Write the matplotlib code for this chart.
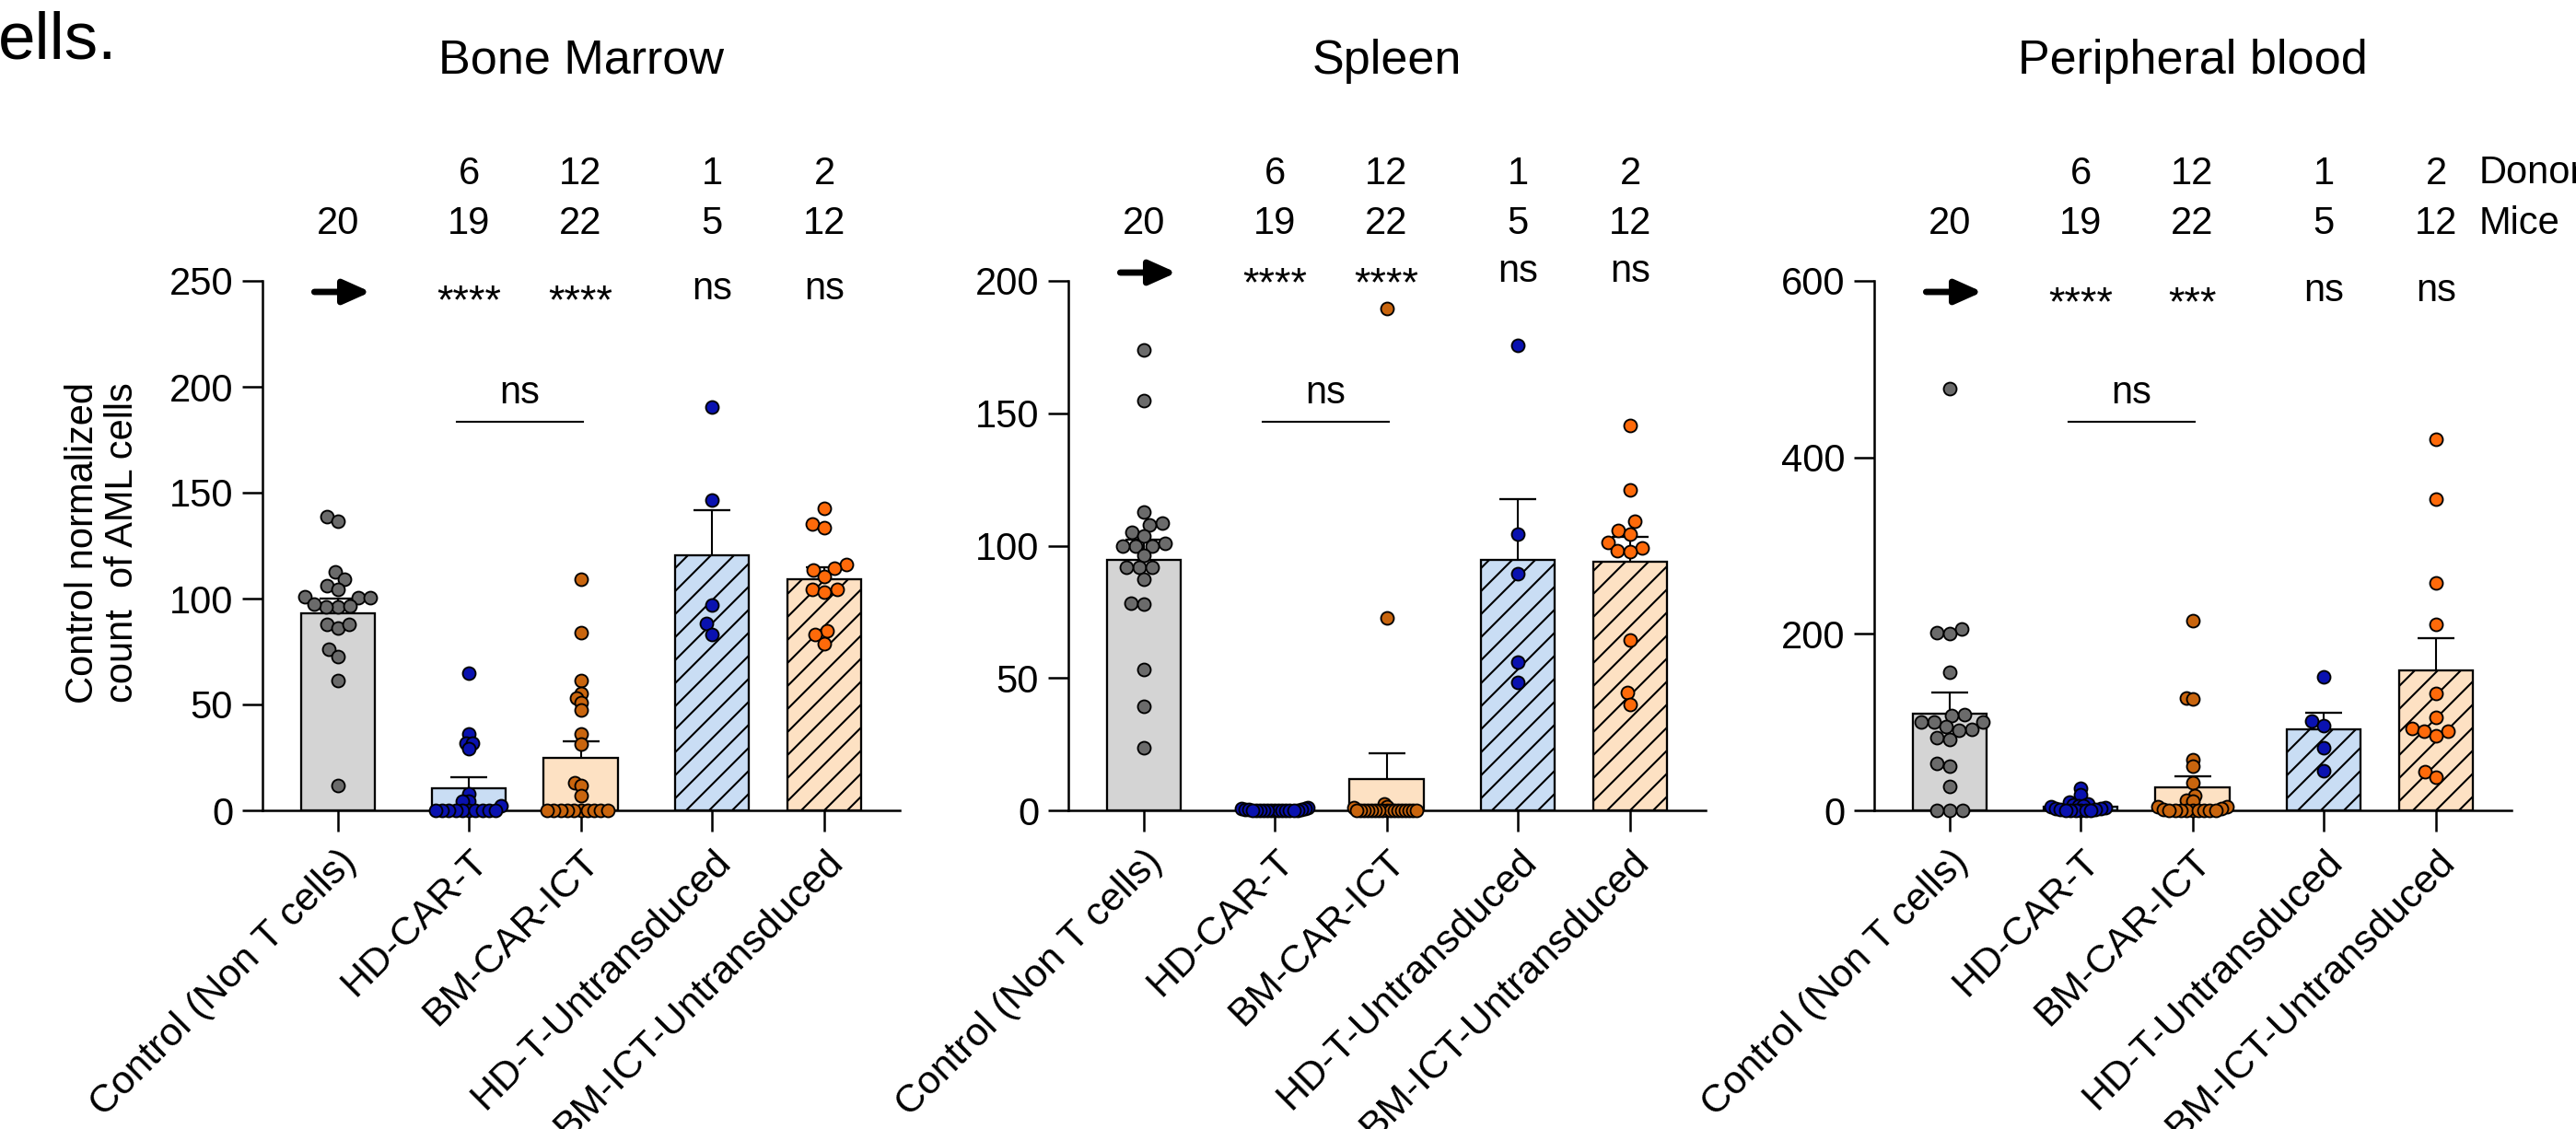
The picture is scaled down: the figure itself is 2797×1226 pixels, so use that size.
import matplotlib
matplotlib.use('Agg')
import matplotlib.pyplot as plt
from matplotlib.transforms import blended_transform_factory
import numpy as np

plt.rcParams['font.family'] = ['Liberation Sans', 'DejaVu Sans']
plt.rcParams['hatch.linewidth'] = 1.0

# ---------------- data ----------------
categories = ["Control (Non T cells)", "HD-CAR-T", "BM-CAR-ICT",
              "HD-T-Untransduced", "BM-ICT-Untransduced"]
panel_titles = ["Bone Marrow", "Spleen", "Peripheral blood"]
donors = ["", "6", "12", "1", "2"]
mice = ["20", "19", "22", "5", "12"]

yticks_bm = [0, 50, 100, 150, 200, 250]
yticks_sp = [0, 50, 100, 150, 200]
yticks_pb = [0, 200, 400, 600]

stats_bm = ["arrow", "****", "****", "ns", "ns"]
stats_sp = ["arrow", "****", "****", "ns", "ns"]
stats_pb = ["arrow", "****", "***", "ns", "ns"]
pair_label = "ns"

# bar heights (mean) and upper error (SEM)
mean_bm = [93.2, 10.6, 25.0, 120.6, 109.1]
sem_bm = [6.6, 5.1, 7.5, 21.3, 5.8]
mean_sp = [94.7, 0.3, 11.9, 94.6, 94.0]
sem_sp = [7.7, 0.2, 9.5, 23.1, 9.2]
mean_pb = [109.5, 4.6, 26.0, 91.7, 158.2]
sem_pb = [24.0, 1.6, 12.2, 19.2, 37.2]

# individual mice
bm_control = [138.7, 136.6, 112.7, 109.0, 106.1, 104.3, 100.3, 100.3, 100.7, 95.9,
              95.9, 96.4, 97.4, 88.0, 86.0, 88.0, 76.0, 72.5, 61.3, 11.6]
bm_hdcar = [64.9, 36.0, 31.9, 31.9, 29.0, 8.0, 4.3, 4.3, 2.2,
            0, 0, 0, 0, 0, 0, 0, 0, 0, 0]
bm_bmcar = [109.0, 84.0, 61.3, 55.4, 53.2, 50.7, 47.4, 36.0, 31.2, 13.0, 11.9, 7.0,
            0, 0, 0, 0, 0, 0, 0, 0, 0, 0]
bm_hdun = [190.6, 146.4, 97.1, 88.4, 82.9]
bm_bmun = [142.5, 135.2, 133.3, 116.3, 114.2, 113.5, 110.4, 104.3, 104.3, 102.9,
           84.8, 82.9, 78.7]

sp_control = [173.8, 154.9, 112.8, 108.6, 107.9, 105.1, 103.5, 100.7, 99.9, 99.9,
              99.9, 96.3, 91.7, 91.7, 91.7, 87.2, 78.4, 77.9, 53.2, 39.3, 23.7]
sp_hdcar = [1.2, 0.8, 0.6, 0.4, 0.3, 0.2, 0.1, 0, 0, 0, 0, 0, 0, 0, 0, 0, 0, 0, 0]
sp_bmcar = [189.5, 72.8, 2.5, 1.5, 1.0, 0, 0, 0, 0, 0, 0, 0, 0, 0, 0, 0, 0, 0, 0,
            0, 0, 0]
sp_hdun = [175.8, 104.5, 89.4, 55.9, 48.4]
sp_bmun = [145.3, 120.9, 109.1, 105.9, 104.5, 101.3, 99.3, 98.1, 97.6, 64.5, 44.6, 39.9]

pb_control = [477.7, 205.8, 201.7, 199.9, 156.4, 108.4, 107.4, 99.7, 99.7, 99.7,
              94.5, 92.1, 91.1, 82.3, 80.6, 53.5, 50.4, 26.7, 0, 0, 0]
pb_hdcar = [25, 18, 9, 7, 6, 5, 5, 4, 3, 2, 2, 1, 1, 0, 0, 0, 0, 0, 0]
pb_bmcar = [214.5, 126.9, 125.8, 57.0, 50.0, 31.2, 16.3, 11.8, 10.3, 4, 4, 2, 1,
            0, 0, 0, 0, 0, 0, 0, 0, 0]
pb_hdun = [151.2, 100.8, 96.3, 71.2, 45.1]
pb_bmun = [420.8, 352.5, 258.0, 210.3, 132.8, 105.7, 92.8, 89.3, 89.3, 84.1, 44.1, 37.1]

# ---------------- layout / style ----------------
W, H, DPI = 2797, 1226, 150
x_pos = [0, 1.165, 2.16, 3.33, 4.33]
xlim = (-0.672, 5.0)
bar_width = 0.656
bar_fill = ['#d4d4d4', '#c9ddf4', '#fde1c3', '#c9ddf4', '#fde1c3']
bar_hatch = [None, None, None, '//', '//']
dot_color = ['#6b6b6b', '#0a12b0', '#c9650e', '#0a12b0', '#ff6a0a']

panels = [
    dict(title=panel_titles[0], left=285, ylim=250, yticks=yticks_bm,
         mean=mean_bm, sem=sem_bm, stats=stats_bm,
         pts=[bm_control, bm_hdcar, bm_bmcar, bm_hdun, bm_bmun],
         arrow_y=317, ns_base=325, star_base=340),
    dict(title=panel_titles[1], left=1160, ylim=200, yticks=yticks_sp,
         mean=mean_sp, sem=sem_sp, stats=stats_sp,
         pts=[sp_control, sp_hdcar, sp_bmcar, sp_hdun, sp_bmun],
         arrow_y=296, ns_base=306, star_base=321),
    dict(title=panel_titles[2], left=2035, ylim=600, yticks=yticks_pb,
         mean=mean_pb, sem=sem_pb, stats=stats_pb,
         pts=[pb_control, pb_hdcar, pb_bmcar, pb_hdun, pb_bmun],
         arrow_y=317, ns_base=327, star_base=342),
]
AX_W, AX_TOP, AX_BOT = 692, 305, 880
FS = 20


def fy(px):
    return 1 - px / H


def swarm(ypx, D, limit):
    ypx = np.asarray(ypx, dtype=float)
    while True:
        order = np.argsort(ypx, kind='stable')
        xs = np.zeros(len(ypx))
        placed = []
        for i in order:
            y = ypx[i]
            iv = []
            for j in placed:
                dy = abs(y - ypx[j])
                if dy < D:
                    w = np.sqrt(D * D - dy * dy)
                    iv.append((xs[j] - w, xs[j] + w))
            cands = [0.0] + [a for a, b in iv] + [b for a, b in iv]
            cands.sort(key=lambda c: (abs(c), c))
            for c in cands:
                if all(not (a + 1e-6 < c < b - 1e-6) for a, b in iv):
                    xs[i] = c
                    break
            placed.append(i)
        if np.max(np.abs(xs)) <= limit or D < 2:
            return xs
        D *= 0.93


fig = plt.figure(figsize=(W / DPI, H / DPI), dpi=DPI)

for p in panels:
    ax = fig.add_axes([p['left'] / W, 1 - AX_BOT / H, AX_W / W, (AX_BOT - AX_TOP) / H])
    ax.set_xlim(*xlim)
    ax.set_ylim(0, p['ylim'])
    for s in ['top', 'right']:
        ax.spines[s].set_visible(False)
    for s in ['left', 'bottom']:
        ax.spines[s].set_linewidth(1.2)
    ax.set_yticks(p['yticks'])
    ax.set_yticklabels([str(t) for t in p['yticks']], fontsize=FS)
    ax.tick_params(axis='y', length=10.8, width=1.2, pad=4.5)
    ax.set_xticks(x_pos)
    ax.set_xticklabels(categories, fontsize=20.5, rotation=45, ha='right',
                       va='top', rotation_mode='anchor')
    ax.tick_params(axis='x', length=11, width=1.2, pad=6)

    bars = ax.bar(x_pos, p['mean'], width=bar_width, color=bar_fill,
                  edgecolor='black', linewidth=1.1, zorder=2)
    for b, h in zip(bars, bar_hatch):
        if h:
            b.set_hatch(h)

    cw = 0.164
    for x, m, e in zip(x_pos, p['mean'], p['sem']):
        ax.vlines(x, m, m + e, colors='black', linewidth=1.0, zorder=3)
        ax.hlines(m + e, x - cw, x + cw, colors='black', linewidth=1.1, zorder=3)

    # dots
    px_per_x = ax.transData.transform((1, 0))[0] - ax.transData.transform((0, 0))[0]
    px_per_y = ax.transData.transform((0, 1))[1] - ax.transData.transform((0, 0))[1]
    for k, vals in enumerate(p['pts']):
        ypx = np.array(vals) * px_per_y
        offs = swarm(ypx, 14.0, 38.0)
        ax.scatter(x_pos[k] + offs / px_per_x, vals, s=6.7 ** 2, c=dot_color[k],
                   edgecolors='black', linewidths=0.9, zorder=5, clip_on=False)

    tr = blended_transform_factory(ax.transData, fig.transFigure)
    for k in range(5):
        if donors[k]:
            ax.text(x_pos[k], fy(200), donors[k], transform=tr, ha='center',
                    va='baseline', fontsize=FS)
        ax.text(x_pos[k], fy(254), mice[k], transform=tr, ha='center',
                va='baseline', fontsize=FS)
        st = p['stats'][k]
        if st == 'arrow':
            ax.annotate('', xy=(x_pos[k] + 0.29, fy(p['arrow_y'])),
                        xytext=(x_pos[k] - 0.21, fy(p['arrow_y'])),
                        xycoords=tr, textcoords=tr, annotation_clip=False,
                        arrowprops=dict(arrowstyle='-|>,head_length=0.38,head_width=0.17',
                                        lw=3.3, color='black', mutation_scale=31,
                                        shrinkA=0, shrinkB=0))
        elif st == 'ns':
            ax.text(x_pos[k], fy(p['ns_base']), st, transform=tr, ha='center',
                    va='baseline', fontsize=FS)
        else:
            ax.text(x_pos[k], fy(p['star_base']), st, transform=tr, ha='center',
                    va='baseline', fontsize=21.5)

    # pairwise comparison bracket
    x1, x2 = x_pos[1] - 0.11, x_pos[2] + 0.02
    ax.plot([x1, x2], [fy(458), fy(458)], transform=tr, color='black',
            linewidth=1.0, clip_on=False)
    ax.text((x1 + x2) / 2, fy(438), pair_label, transform=tr, ha='center',
            va='baseline', fontsize=FS)

    cx = (p['left'] + AX_W / 2) / W
    fig.text(cx, fy(80), p['title'], ha='center', va='baseline', fontsize=25)

fig.text(2692 / W, fy(199), "Donors", ha='left', va='baseline', fontsize=FS)
fig.text(2692 / W, fy(254), "Mice", ha='left', va='baseline', fontsize=FS)

fig.text(111.5 / W, fy(589), "Control normalized\ncount  of AML cells", rotation=90,
         ha='center', va='center', fontsize=FS, linespacing=1.1, multialignment='center')
fig.text(-2 / W, fy(63), "ells.", ha='left', va='baseline', fontsize=35)

fig.savefig('out.png', dpi=DPI)
